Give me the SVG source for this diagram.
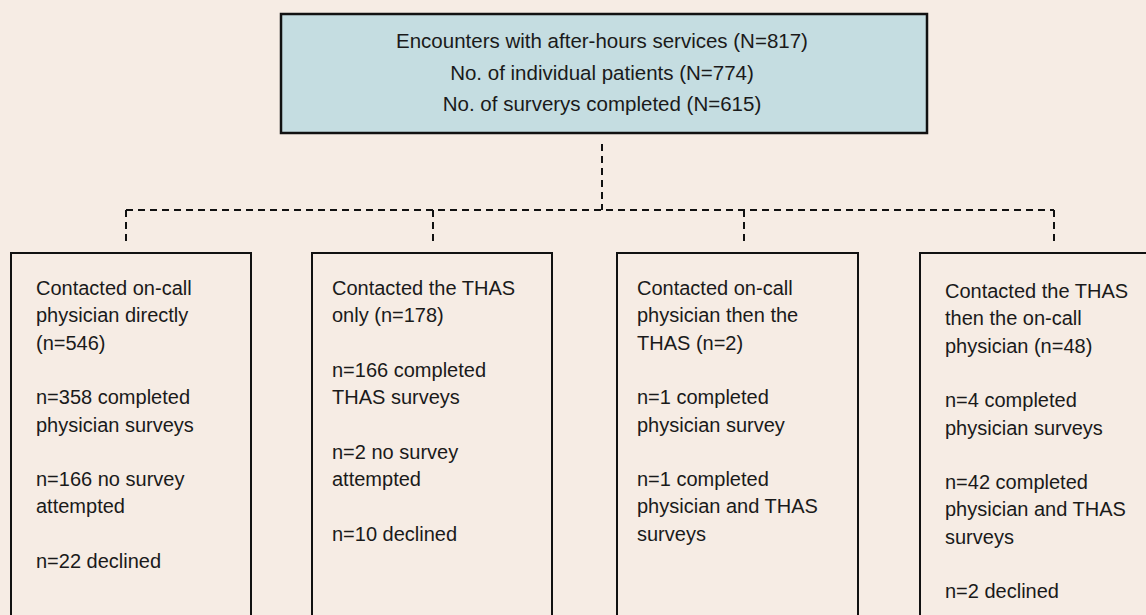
<svg xmlns="http://www.w3.org/2000/svg" width="1146" height="615" viewBox="0 0 1146 615">
<style>
.bg{fill:#f6ece4}
.top{fill:#c5dde1;stroke:#111;stroke-width:2.5}
.box{fill:#f6ece4;stroke:#111;stroke-width:2}
.t{font-family:"Liberation Sans",Arial,sans-serif;font-size:20px;fill:#1a1a1a}
.tc{font-family:"Liberation Sans",Arial,sans-serif;font-size:20.5px;fill:#1a1a1a;text-anchor:middle}
.dash{fill:none;stroke:#111;stroke-width:2;stroke-dasharray:7 5}
</style>
<rect class="bg" x="0" y="0" width="1146" height="615"/>
<g id="connectors">
<line class="dash" x1="602" y1="144" x2="602" y2="210"/>
<line class="dash" x1="126" y1="210" x2="1054" y2="210"/>
<line class="dash" x1="126" y1="210" x2="126" y2="245"/>
<line class="dash" x1="433" y1="210" x2="433" y2="245"/>
<line class="dash" x1="744" y1="210" x2="744" y2="245"/>
<line class="dash" x1="1054" y1="210" x2="1054" y2="245"/>
</g>
<g id="top">
<rect class="top" x="281" y="14" width="646" height="119"/>
<text class="tc" x="602" y="48">Encounters with after-hours services (N=817)</text>
<text class="tc" x="602" y="80">No. of individual patients (N=774)</text>
<text class="tc" x="602" y="111">No. of surverys completed (N=615)</text>
</g>
<g id="box1">
<rect class="box" x="11" y="253" width="240" height="380"/>
<text class="t" x="36" y="295">Contacted on-call</text>
<text class="t" x="36" y="322.3">physician directly</text>
<text class="t" x="36" y="349.6">(n=546)</text>
<text class="t" x="36" y="404.2">n=358 completed</text>
<text class="t" x="36" y="431.5">physician surveys</text>
<text class="t" x="36" y="486.1">n=166 no survey</text>
<text class="t" x="36" y="513.4">attempted</text>
<text class="t" x="36" y="568">n=22 declined</text>
</g>
<g id="box2">
<rect class="box" x="312" y="253" width="240" height="380"/>
<text class="t" x="332" y="295">Contacted the THAS</text>
<text class="t" x="332" y="322.3">only (n=178)</text>
<text class="t" x="332" y="376.9">n=166 completed</text>
<text class="t" x="332" y="404.2">THAS surveys</text>
<text class="t" x="332" y="458.8">n=2 no survey</text>
<text class="t" x="332" y="486.1">attempted</text>
<text class="t" x="332" y="540.7">n=10 declined</text>
</g>
<g id="box3">
<rect class="box" x="617" y="253" width="241" height="380"/>
<text class="t" x="637" y="295">Contacted on-call</text>
<text class="t" x="637" y="322.3">physician then the</text>
<text class="t" x="637" y="349.6">THAS (n=2)</text>
<text class="t" x="637" y="404.2">n=1 completed</text>
<text class="t" x="637" y="431.5">physician survey</text>
<text class="t" x="637" y="486.1">n=1 completed</text>
<text class="t" x="637" y="513.4">physician and THAS</text>
<text class="t" x="637" y="540.7">surveys</text>
</g>
<g id="box4">
<rect class="box" x="920" y="253" width="250" height="380"/>
<text class="t" x="945" y="298">Contacted the THAS</text>
<text class="t" x="945" y="325.3">then the on-call</text>
<text class="t" x="945" y="352.6">physician (n=48)</text>
<text class="t" x="945" y="407.2">n=4 completed</text>
<text class="t" x="945" y="434.5">physician surveys</text>
<text class="t" x="945" y="489.1">n=42 completed</text>
<text class="t" x="945" y="516.4">physician and THAS</text>
<text class="t" x="945" y="543.7">surveys</text>
<text class="t" x="945" y="598.3">n=2 declined</text>
</g>
</svg>
